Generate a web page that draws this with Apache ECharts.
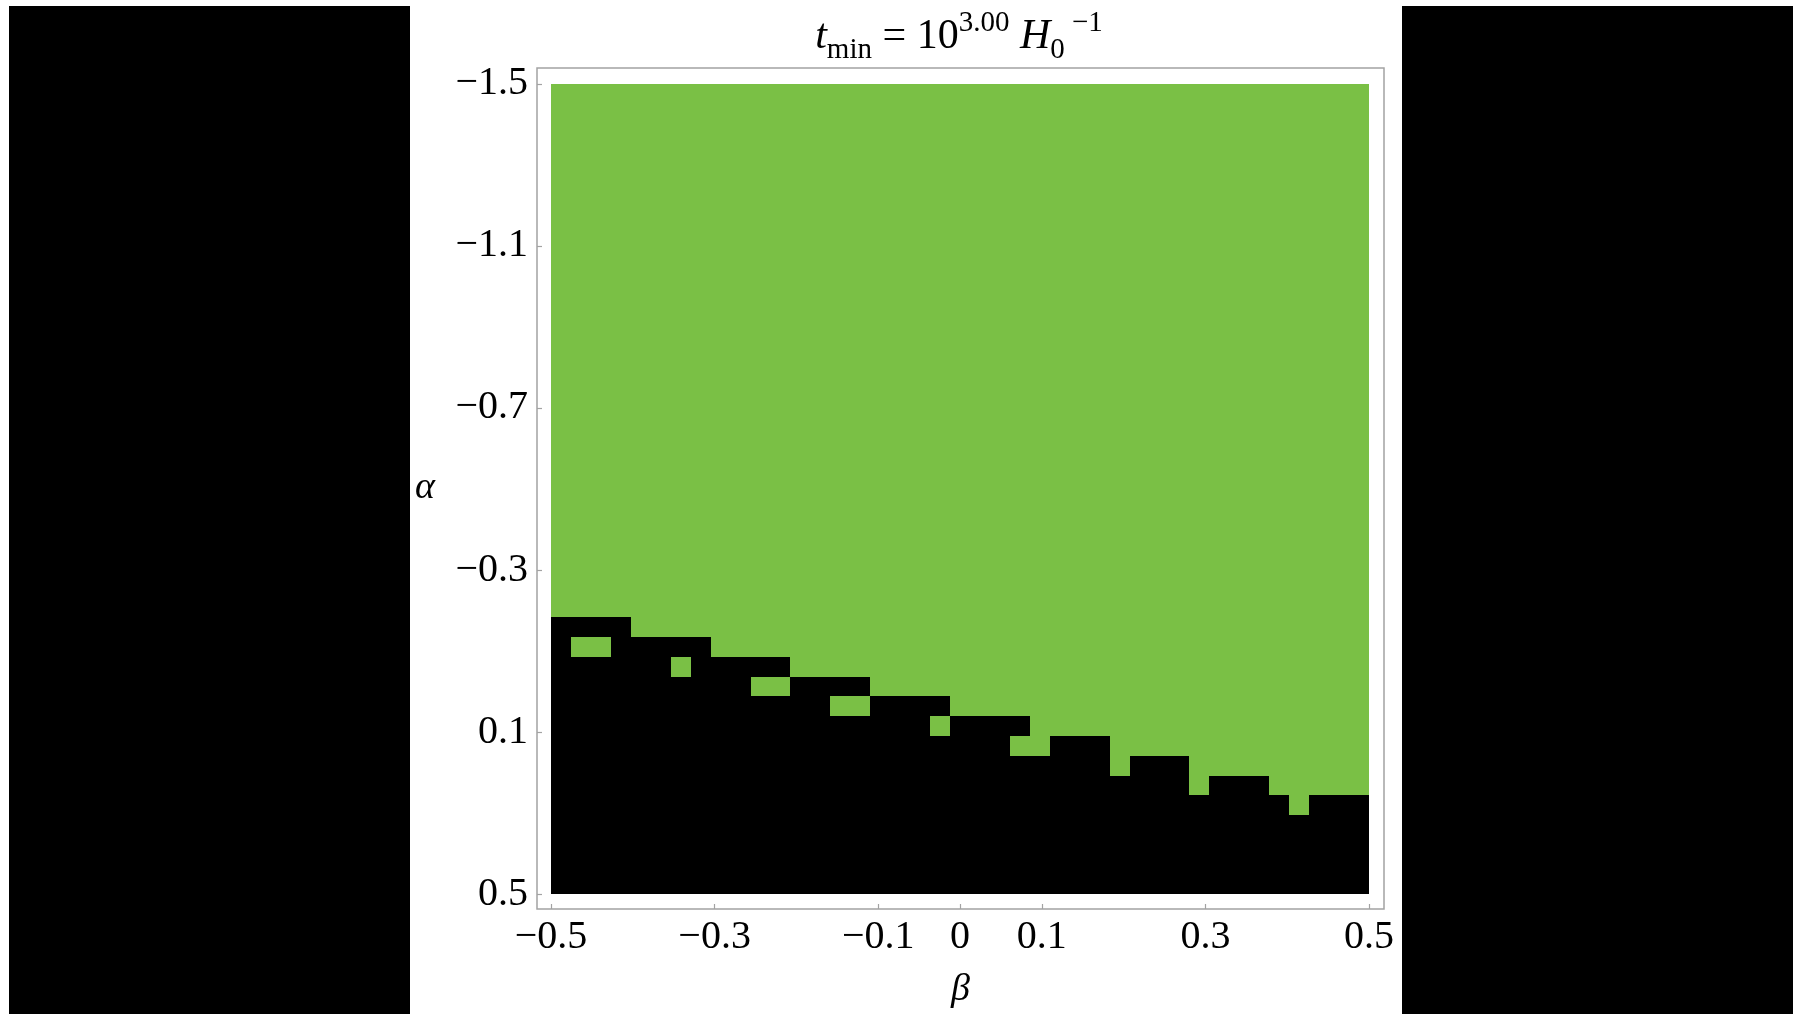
<!DOCTYPE html>
<html><head><meta charset="utf-8">
<script src="https://cdn.jsdelivr.net/npm/echarts@6/dist/echarts.min.js"></script>
<style>html,body{margin:0;padding:0;background:#fff;}#chart{width:1793px;height:1014px;}</style>
</head><body><div id="chart"></div>
<script>
// Array plot: 41 beta columns x 41 alpha rows
const betaRange = [-0.5, 0.5];
const alphaRange = [-1.5, 0.5];
const nBeta = 41;
const nAlpha = 41;
// per beta column (left to right): first black row, rows counted from alpha = -1.5 (top)
const blackStartRow = [27,27,27,27,28,28,28,28,29,29,29,29,30,30,30,30,31,31,31,31,32,32,32,32,34,33,33,33,35,34,34,34,36,35,35,35,36,37,36,36,36];
// green cells inside the black region: [column, row]
const greenHoles = [[1,28],[2,28],[6,29],[10,30],[11,30],[14,31],[15,31],[19,32],[23,33]];
const xTickValues = [-0.5,-0.3,-0.1,0,0.1,0.3,0.5];
const yTickValues = [-1.5,-1.1,-0.7,-0.3,0.1,0.5];

const GREEN = '#7ac045', BLACK = '#000000', FRAME = '#a3a3a3';
const FONT = '"Liberation Serif", "Times New Roman", serif';

const holeSet = new Set(greenHoles.map(h => h[0] + ',' + h[1]));
const dB = (betaRange[1] - betaRange[0]) / nBeta;
const dA = (alphaRange[1] - alphaRange[0]) / nAlpha;
const cells = [];
for (let c = 0; c < nBeta; c++) {
  for (let r = 0; r < nAlpha; r++) {
    let black = r >= blackStartRow[c] ? 1 : 0;
    if (holeSet.has(c + ',' + r)) black = 0;
    cells.push([betaRange[0] + c * dB, betaRange[0] + (c + 1) * dB,
                alphaRange[0] + r * dA, alphaRange[0] + (r + 1) * dA, black]);
  }
}
function fmt(v) {
  if (Math.abs(v) < 1e-9) return '0';
  return (v < 0 ? '\u2212' : '') + Math.abs(v).toFixed(1);
}

const base = {fontFamily: FONT, color: '#000', fontWeight: 'normal', lineHeight: 56};
const chart = echarts.init(document.getElementById('chart'), null, {renderer: 'canvas'});
chart.setOption({
  animation: false,
  backgroundColor: '#ffffff',
  graphic: [
    {type: 'rect', shape: {x: 9, y: 6, width: 401, height: 1008}, style: {fill: '#000'}, silent: true},
    {type: 'rect', shape: {x: 1402, y: 6, width: 391, height: 1008}, style: {fill: '#000'}, silent: true}
  ],
  title: {
    left: 954, top: 4, textAlign: 'center',
    text: '{t|t}{sub|min}{m| = 10}{sup|3.00}{h| H}{sub|0}{sup| \u22121}',
    textStyle: {
      fontWeight: 'normal', fontFamily: FONT,
      rich: {
        t: Object.assign({}, base, {fontStyle: 'italic', fontSize: 42}),
        m: Object.assign({}, base, {fontSize: 42}),
        h: Object.assign({}, base, {fontStyle: 'italic', fontSize: 42}),
        sub: Object.assign({}, base, {fontSize: 29, verticalAlign: 'bottom', padding: [14, 0, 0, 0]}),
        sup: Object.assign({}, base, {fontSize: 29, verticalAlign: 'top', padding: [0, 0, 10, 0]})
      }
    }
  },
  grid: {
    left: 537, top: 68, width: 847, height: 844,
    show: true, borderColor: FRAME, borderWidth: 1.5, backgroundColor: '#fff'
  },
  xAxis: {
    type: 'value', min: -0.51711, max: 0.51834,
    name: '\u03b2', nameLocation: 'middle', nameGap: 62,
    nameTextStyle: {fontFamily: FONT, fontStyle: 'italic', fontSize: 38, color: '#000'},
    axisLine: {show: false, onZero: false}, splitLine: {show: false},
    axisTick: {show: true, inside: true, length: 5, customValues: xTickValues, lineStyle: {color: FRAME, width: 1.2}},
    axisLabel: {customValues: xTickValues, formatter: fmt, margin: 8, fontFamily: FONT, fontSize: 40, color: '#000'}
  },
  yAxis: {
    type: 'value', inverse: true, min: -1.53936, max: 0.5369,
    name: '\u03b1', nameLocation: 'middle', nameRotate: 0, nameGap: 102,
    nameTextStyle: {fontFamily: FONT, fontStyle: 'italic', fontSize: 38, color: '#000'},
    axisLine: {show: false, onZero: false}, splitLine: {show: false},
    axisTick: {show: true, inside: true, length: 5, customValues: yTickValues, lineStyle: {color: FRAME, width: 1.2}},
    axisLabel: {customValues: yTickValues, formatter: fmt, margin: 9, fontFamily: FONT, fontSize: 40, color: '#000'}
  },
  series: [{
    type: 'custom', silent: true,
    encode: {x: [0, 1], y: [2, 3]},
    data: cells,
    renderItem: function (params, api) {
      const p0 = api.coord([api.value(0), api.value(2)]);
      const p1 = api.coord([api.value(1), api.value(3)]);
      const x0 = Math.round(Math.min(p0[0], p1[0])), x1 = Math.round(Math.max(p0[0], p1[0]));
      const y0 = Math.round(Math.min(p0[1], p1[1])), y1 = Math.round(Math.max(p0[1], p1[1]));
      return {type: 'rect', shape: {x: x0, y: y0, width: x1 - x0, height: y1 - y0},
              style: {fill: api.value(4) ? BLACK : GREEN}};
    }
  }]
});
</script></body></html>
